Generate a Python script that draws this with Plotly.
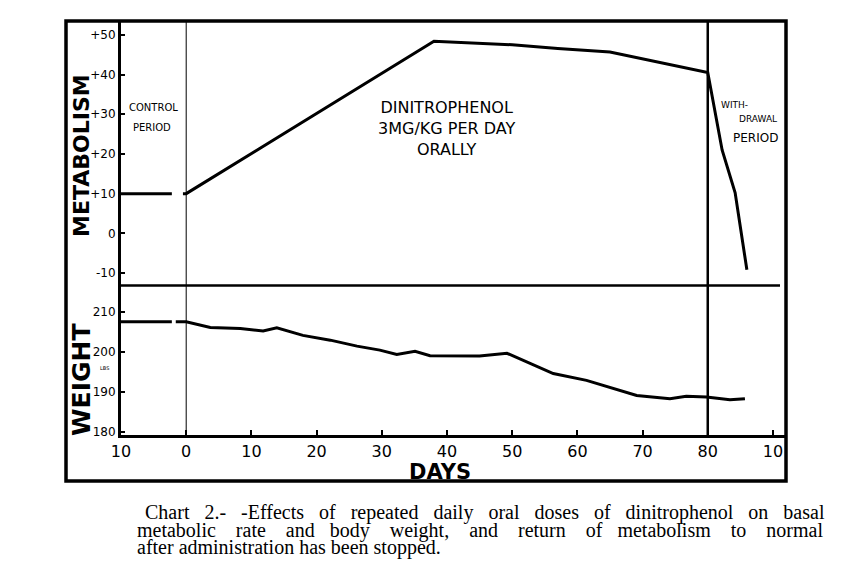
import plotly.graph_objects as go

# Metabolism (per cent above/below normal) by day
met_days = [-10, -2.2, None, -0.5, 0, 38, 50, 57, 65, 80, 82.2, 84.2, 86]
met_vals = [10, 10, None, 10, 10, 48.4, 47.5, 46.6, 45.7, 40.5, 21, 10.2, -9.2]

# Body weight (lbs) by day
wt_days = [-10, -2.2, None, -1.6, 0, 3.7, 8.3, 11.8, 13.9, 17.9, 22.1, 26.2, 29.7,
           32.3, 35.1, 37.4, 45, 49.2, 56.3, 61.4, 69.1, 74.2, 76.7, 79.8, 83.4, 85.7]
wt_vals = [207.6, 207.6, None, 207.6, 207.6, 206.2, 205.9, 205.3, 206.1, 204.2, 203,
           201.5, 200.5, 199.4, 200.2, 199.1, 199, 199.7, 194.6, 192.9, 189.1, 188.3,
           188.9, 188.7, 188, 188.3]

day_ticks = [-10, 0, 10, 20, 30, 40, 50, 60, 70, 80, 90]
day_labels = ["10", "0", "10", "20", "30", "40", "50", "60", "70", "80", "10"]
met_ticks = [-10, 0, 10, 20, 30, 40, 50]
met_labels = ["-10", "0", "+10", "+20", "+30", "+40", "+50"]
wt_ticks = [180, 190, 200, 210]
wt_labels = ["180", "190", "200", "210"]
period_bounds = [0, 80]

caption = [
    "Chart 2.- -Effects of repeated daily oral doses of dinitrophenol on basal",
    "metabolic rate and body weight, and return of metabolism to normal",
    "after administration has been stopped.",
]

# plot area in screen pixels (page has an 8px body margin)
OFF = 8
L, R, T, B = 121, 786, 21, 435
split = (B - 285.5) / (B - T)


def px(x):
    return (x - L) / (R - L)


def py(y):
    return (B - y) / (B - T)


fig = go.Figure()
fig.add_trace(go.Scatter(x=met_days, y=met_vals, yaxis="y2", mode="lines",
                         line=dict(color="black", width=3), connectgaps=False))
fig.add_trace(go.Scatter(x=wt_days, y=wt_vals, yaxis="y", mode="lines",
                         line=dict(color="black", width=3), connectgaps=False))

tick_font = dict(family="DejaVu Sans", size=12, color="black")
fig.update_layout(
    width=860, height=576,
    margin=dict(l=L - OFF, r=860 - R + OFF, t=T - OFF, b=576 - B + OFF),
    paper_bgcolor="white", plot_bgcolor="white",
    showlegend=False,
    xaxis=dict(range=[-10, 92], tickvals=day_ticks, ticktext=day_labels,
               ticks="inside", ticklen=5, tickwidth=2, tickcolor="black",
               showline=True, linewidth=3, linecolor="black",
               showgrid=False, zeroline=False,
               tickfont=dict(family="DejaVu Sans", size=16, color="black")),
    yaxis=dict(domain=[0, split], range=[179.17, 216.73],
               tickvals=wt_ticks, ticktext=wt_labels,
               ticks="inside", ticklen=4, tickwidth=2, tickcolor="black",
               showline=True, linewidth=3, linecolor="black",
               showgrid=False, zeroline=False, tickfont=tick_font),
    yaxis2=dict(domain=[split, 1], range=[-13.15, 53.5], anchor="x",
                tickvals=met_ticks, ticktext=met_labels,
                ticks="inside", ticklen=4, tickwidth=2, tickcolor="black",
                showline=True, linewidth=3, linecolor="black",
                showgrid=False, zeroline=False, tickfont=tick_font),
)

# outer frame, divider and period boundaries
fig.add_shape(type="rect", xref="paper", yref="paper",
              x0=px(66), x1=1, y0=py(481), y1=1,
              line=dict(color="black", width=3.5))
fig.add_shape(type="line", xref="paper", yref="paper",
              x0=0, x1=px(780), y0=split, y1=split,
              line=dict(color="black", width=2.5))
for d, w in zip(period_bounds, [1, 2.5]):
    fig.add_shape(type="line", xref="x", yref="paper", x0=d, x1=d, y0=0, y1=1,
                  line=dict(color="black", width=w))


def note(text, x, y, font, angle=0, xanchor="center"):
    fig.add_annotation(text=text, xref="paper", yref="paper", x=px(x), y=py(y),
                       xanchor=xanchor, yanchor="middle", textangle=angle,
                       showarrow=False, font=font)


note("METABOLISM", 81, 156, dict(family="DejaVu Sans", size=22, color="black",
                                 weight="bold"), angle=-90)
note("WEIGHT", 81, 380, dict(family="DejaVu Sans", size=25, color="black",
                             weight="bold"), angle=-90)
note("LBS", 104, 368, dict(family="DejaVu Sans", size=5, color="black"))
note("DAYS", 440, 472, dict(family="DejaVu Sans", size=21, color="black",
                            weight="bold"))

small = dict(family="DejaVu Sans", size=10, color="black")
note("CONTROL", 153, 107, small)
note("PERIOD", 152, 127, small)
note("DINITROPHENOL<br>3MG/KG PER DAY<br>ORALLY", 446, 128,
     dict(family="DejaVu Sans", size=16, color="black"))
note("WITH-", 734, 105, dict(family="DejaVu Sans", size=9, color="black"))
note("DRAWAL", 758, 119, dict(family="DejaVu Sans", size=9, color="black"))
note("PERIOD", 755, 138, dict(family="DejaVu Sans", size=12, color="black"))

# caption, padded with no-break spaces to imitate the justified setting
serif = dict(family="Liberation Serif", size=20, color="black")
pads = [2.0, 2.8, 0]
for line, pad, x, y in zip(caption, pads, [143, 135, 135], [512, 530, 547]):
    words = line.split(" ")
    text = words[0]
    for i, w in enumerate(words[1:]):
        k = round((i + 1) * pad) - round(i * pad)
        text += " " + "\u00a0" * k + w
    note(text, x, y, serif, xanchor="left")

fig.write_html("out.html")
